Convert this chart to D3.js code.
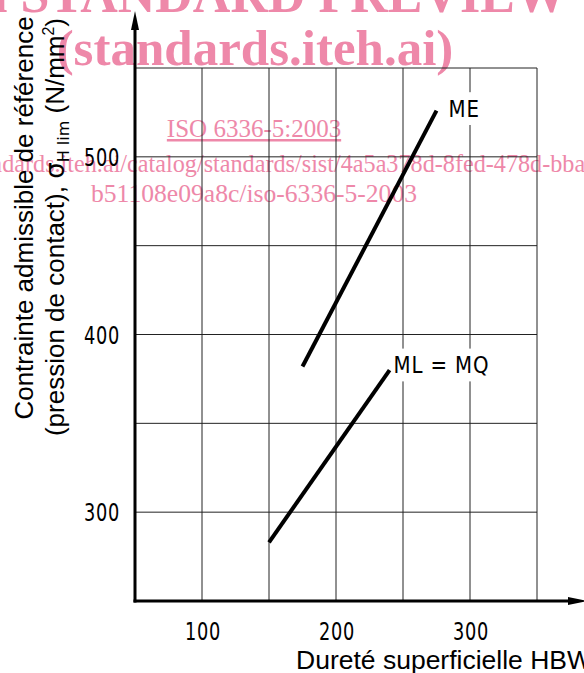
<!DOCTYPE html>
<html>
<head>
<meta charset="utf-8">
<script src="https://cdn.jsdelivr.net/npm/d3@7"></script>
<style>
  html, body { margin: 0; padding: 0; background: #fff; }
  svg { display: block; }
  .iso { font-family: 'DejaVu Sans', sans-serif; }
</style>
</head>
<body>
<div id="chart"></div>
<script>
// Data
const xGrid = [100, 150, 200, 250, 300, 350];
const yGrid = [300, 350, 400, 450, 500, 550];
const xTickLabels = [100, 200, 300];
const yTickLabels = [300, 400, 500];
const seriesNames = ["ME", "ML = MQ"];
const meHBW = [175, 275];
const meSigma = [382, 526];
const mlHBW = [150, 240];
const mlSigma = [283, 380];

// Layout
const w = 584;
const h = 673;
const pink = "#ee88a9";

const x = d3.scaleLinear().domain([50, 350]).range([135, 537]);
const y = d3.scaleLinear().domain([250, 550]).range([601, 68]);

const svg = d3.select("#chart")
    .append("svg")
    .attr("width", w)
    .attr("height", h);

// Watermark (behind the drawing)
const wm = svg.append("g").attr("fill", pink).attr("font-family", "'Liberation Serif', 'Times New Roman', serif");
wm.append("text")
    .attr("x", 567).attr("y", 12)
    .attr("text-anchor", "end")
    .attr("font-size", 52).attr("font-weight", "bold")
    .text("iTeh STANDARD PREVIEW");
wm.append("text")
    .attr("x", 255).attr("y", 65)
    .attr("text-anchor", "middle")
    .attr("font-size", 51).attr("font-weight", "bold")
    .text("(standards.iteh.ai)");
wm.append("text")
    .attr("x", 254).attr("y", 137)
    .attr("text-anchor", "middle")
    .attr("font-size", 25)
    .attr("text-decoration", "underline")
    .text("ISO 6336-5:2003");
wm.append("text")
    .attr("x", -104).attr("y", 172)
    .attr("font-size", 24.2)
    .text("https://standards.iteh.ai/catalog/standards/sist/4a5a378d-8fed-478d-bba5-");
wm.append("text")
    .attr("x", 254).attr("y", 202)
    .attr("text-anchor", "middle")
    .attr("font-size", 25.6)
    .text("b51108e09a8c/iso-6336-5-2003");

// Grid
const grid = svg.append("g").attr("stroke", "#222").attr("stroke-width", 1);
grid.selectAll(".gx")
    .data(xGrid)
    .enter()
    .append("line")
    .attr("x1", d => x(d)).attr("x2", d => x(d))
    .attr("y1", y(250)).attr("y2", y(550));
grid.selectAll(".gy")
    .data(yGrid)
    .enter()
    .append("line")
    .attr("x1", x(50)).attr("x2", x(350))
    .attr("y1", d => y(d)).attr("y2", d => y(d));

// Axes with arrows
svg.append("line")
    .attr("x1", x(50)).attr("x2", x(50))
    .attr("y1", y(250) + 1.5).attr("y2", 24)
    .attr("stroke", "#000").attr("stroke-width", 3);
svg.append("path")
    .attr("d", `M${x(50)},11 L${x(50) - 4},30 L${x(50) + 4},30 Z`)
    .attr("fill", "#000");
svg.append("line")
    .attr("x1", x(50) - 1.5).attr("x2", 572)
    .attr("y1", y(250)).attr("y2", y(250))
    .attr("stroke", "#000").attr("stroke-width", 3);
svg.append("path")
    .attr("d", `M587,${y(250)} L568,${y(250) - 4} L568,${y(250) + 4} Z`)
    .attr("fill", "#000");

// Tick labels (narrow lettering, squeezed horizontally)
svg.append("g")
    .selectAll("g")
    .data(yTickLabels)
    .enter()
    .append("g")
    .attr("transform", d => `translate(120,${y(d) + 9}) scale(0.74,1)`)
    .append("text")
    .attr("class", "iso")
    .attr("text-anchor", "end")
    .attr("font-size", 24)
    .attr("letter-spacing", 1)
    .text(d => d);
svg.append("g")
    .selectAll("g")
    .data(xTickLabels)
    .enter()
    .append("g")
    .attr("transform", d => `translate(${x(d) + 1},640) scale(0.74,1)`)
    .append("text")
    .attr("class", "iso")
    .attr("text-anchor", "middle")
    .attr("font-size", 24)
    .attr("letter-spacing", 1)
    .text(d => d);

// Curves
const series = [
    { name: seriesNames[0], pts: meHBW.map((v, i) => [v, meSigma[i]]), dx: 12, dy: 6 },
    { name: seriesNames[1], pts: mlHBW.map((v, i) => [v, mlSigma[i]]), dx: 4, dy: 3 }
];
const line = d3.line().x(d => x(d[0])).y(d => y(d[1]));
svg.append("g")
    .selectAll("path")
    .data(series)
    .enter()
    .append("path")
    .attr("d", d => line(d.pts))
    .attr("fill", "none")
    .attr("stroke", "#000")
    .attr("stroke-width", 4);

// Curve labels
const labels = svg.append("g")
    .selectAll("g")
    .data(series)
    .enter()
    .append("g")
    .attr("transform", d => `translate(${x(d.pts[1][0]) + d.dx},${y(d.pts[1][1]) + d.dy}) scale(0.86,1)`);
labels.append("text")
    .attr("class", "iso")
    .attr("font-size", 23)
    .attr("letter-spacing", 1)
    .text(d => d.name.replace(/ /g, "\u00a0"));
labels.each(function () {
    const t = d3.select(this).select("text");
    const b = t.node().getBBox();
    d3.select(this).insert("rect", "text")
        .attr("x", b.x - 2).attr("y", b.y - 3)
        .attr("width", b.width + 4).attr("height", b.height + 6)
        .attr("fill", "#fff");
});

// Axis titles
const sans = "'Liberation Sans', Arial, sans-serif";
svg.append("text")
    .attr("x", 296).attr("y", 669)
    .attr("font-family", sans)
    .attr("font-size", 26.5)
    .text("Dureté superficielle HBW");
svg.append("text")
    .attr("transform", "translate(33,218) rotate(-90)")
    .attr("text-anchor", "middle")
    .attr("font-family", sans)
    .attr("font-size", 26)
    .text("Contrainte admissible de référence");
const t2 = svg.append("text")
    .attr("transform", "translate(64,227) rotate(-90)")
    .attr("text-anchor", "middle")
    .attr("font-family", sans)
    .attr("font-size", 26);
t2.append("tspan").text("(pression de contact), ");
t2.append("tspan").attr("class", "iso").text("σ");
t2.append("tspan").attr("class", "iso").attr("font-size", 16).attr("dy", 5).text("H lim");
t2.append("tspan").attr("dy", -5).text(" (N/mm");
t2.append("tspan").attr("font-size", 16).attr("dy", -10).text("2");
t2.append("tspan").attr("dy", 10).text(")");
</script>
</body>
</html>
